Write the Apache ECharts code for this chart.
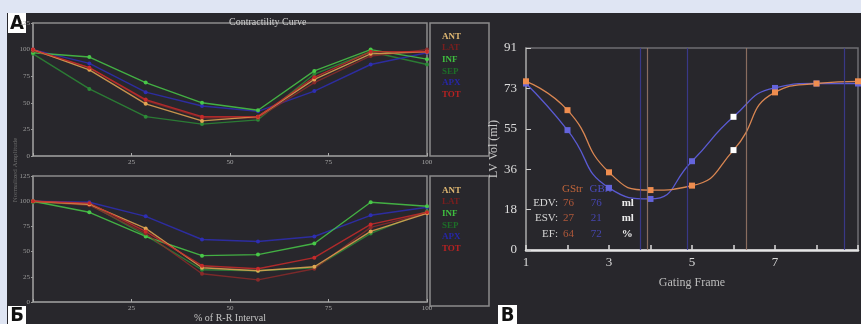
<!DOCTYPE html>
<html>
<head>
<meta charset="utf-8">
<script src="https://cdn.jsdelivr.net/npm/echarts@6/dist/echarts.min.js"></script>
<style>
  html, body { margin: 0; padding: 0; background: #dfe5f3; }
  #main { width: 861px; height: 324px; }
</style>
</head>
<body>
<div id="main"></div>
<script>
"use strict";

// % of R-R interval for the 8 gating frames (panels A and Б)
var rrPct = [0, 14.3, 28.6, 42.9, 57.1, 71.4, 85.7, 100];
var segNames = ['ANT', 'LAT', 'INF', 'SEP', 'APX', 'TOT'];

// panel A, normalized amplitude
var antA = [100, 81, 49, 33, 37, 72, 96, 98];
var latA = [99, 83, 52, 36, 36, 69, 94, 100];
var infA = [97, 93, 69, 50, 43, 80, 100, 91];
var sepA = [96, 63, 37, 30, 34, 77, 98, 86];
var apxA = [100, 87, 60, 47, 42, 61, 86, 97];
var totA = [100, 83, 53, 37, 37, 74, 98, 98];

// panel Б
var antB = [100, 97, 73, 34, 31, 35, 70, 88];
var latB = [100, 96, 68, 28, 22, 33, 74, 88];
var infB = [100, 89, 65, 46, 47, 58, 99, 95];
var sepB = [99, 97, 66, 32, 31, 34, 68, 90];
var apxB = [100, 99, 85, 62, 60, 65, 86, 94];
var totB = [100, 98, 70, 36, 33, 44, 77, 89];

// panel В, LV volume (ml) per gating frame
var frames = [1, 2, 3, 4, 5, 6, 7, 8, 9];
var gsVol = [76, 63, 35, 27, 29, 45, 71, 75, 76];
var gbVol = [75, 54, 28, 23, 40, 60, 73, 75, 75];
var volTicks = [0, 18, 36, 55, 73, 91];
var tanLines = [3.93, 6.31];
var blueLines = [3.75, 4.88, 8.67];
var whiteFrame = 6;

var segColors = {
    ANT: '#e2a552', LAT: '#8a2a2a', INF: '#48c848',
    SEP: '#2c8a36', APX: '#2e2eb4', TOT: '#c62a2a'
};
var legendColors = {
    ANT: '#e0b872', LAT: '#7a1e1e', INF: '#3fbf3f',
    SEP: '#1d6e28', APX: '#2626a8', TOT: '#b82222'
};

var serif = "'Liberation Serif', 'DejaVu Serif', serif";

function pairs(xs, ys) {
    return xs.map(function (x, i) { return [x, ys[i]]; });
}

function segSeries(idx, vals) {
    var order = ['SEP', 'APX', 'INF', 'LAT', 'ANT', 'TOT'];
    return order.map(function (n) {
        return {
            name: n,
            type: 'line',
            xAxisIndex: idx,
            yAxisIndex: idx,
            data: pairs(rrPct, vals[n]),
            symbol: 'circle',
            symbolSize: 4,
            lineStyle: { width: 1.4, color: segColors[n], opacity: 0.85 },
            itemStyle: { color: segColors[n] },
            animation: false
        };
    });
}

function smallX(idx, name) {
    return {
        gridIndex: idx, type: 'value', min: 0, max: 100, interval: 25,
        name: name || '', nameLocation: 'middle', nameGap: 11,
        nameTextStyle: { color: '#c4c4c4', fontFamily: serif, fontSize: 10 },
        axisLine: { lineStyle: { color: '#8c8c8c', width: 1.5 } },
        axisTick: { inside: true, length: 3, lineStyle: { color: '#aaa' } },
        axisLabel: {
            color: '#a8a8a8', fontFamily: serif, fontSize: 7, margin: 3,
            formatter: function (v) { return v === 0 ? '' : v; }
        },
        splitLine: { show: false }
    };
}

function smallY(idx) {
    return {
        gridIndex: idx, type: 'value', min: 0, max: 125, interval: 25,
        axisLine: { show: true, lineStyle: { color: '#8c8c8c', width: 1.5 } },
        axisTick: { show: true, length: 2, lineStyle: { color: '#999' } },
        axisLabel: { color: '#9a9a9a', fontFamily: serif, fontSize: 7, margin: 3 },
        splitLine: { show: false }
    };
}

function segLegend(top) {
    return {
        orient: 'vertical', left: 432, top: top,
        icon: 'none', itemWidth: 0, itemHeight: 8, itemGap: 2.6,
        selectedMode: false,
        data: segNames.map(function (n) {
            return { name: n, textStyle: { color: legendColors[n] } };
        }),
        textStyle: { fontFamily: serif, fontSize: 9, fontWeight: 'bold' }
    };
}

function panelTag(x, y, w, h, txt) {
    return {
        type: 'group', left: x, top: y,
        children: [
            { type: 'rect', shape: { x: 0, y: 0, width: w, height: h }, style: { fill: '#ffffff' } },
            {
                type: 'text', x: w / 2, y: h / 2 + 1,
                style: {
                    text: txt, fill: '#111', align: 'center', verticalAlign: 'middle',
                    font: "bold 20px 'Liberation Sans Narrow', 'DejaVu Sans Condensed', sans-serif"
                }
            }
        ]
    };
}

function markerData(ys) {
    return frames.map(function (f, i) {
        var item = { value: [f, ys[i]] };
        if (f === whiteFrame) item.itemStyle = { color: '#ffffff' };
        return item;
    });
}

function vertLines(xs, color) {
    return {
        silent: true, symbol: 'none', label: { show: false },
        lineStyle: { color: color, width: 1.2, type: 'solid', opacity: 0.85 },
        data: xs.map(function (x) { return { xAxis: x }; })
    };
}

function tableRow(y, label, a, b, unit) {
    return [
        {
            type: 'text', x: 558, y: y,
            style: { text: label, fill: '#d6d6d6', align: 'right', verticalAlign: 'middle', font: "11px " + serif }
        },
        {
            type: 'text', x: 563, y: y,
            style: {
                text: '{o|' + a + '}     {b|' + b + '}      {u|' + unit + '}', verticalAlign: 'middle',
                rich: {
                    o: { fill: '#b0583a', font: "11px " + serif },
                    b: { fill: '#4646b0', font: "11px " + serif },
                    u: { fill: '#ececec', font: "bold 11px " + serif }
                }
            }
        }
    ];
}

var chart = echarts.init(document.getElementById('main'), null, { renderer: 'canvas' });

var option = {
    backgroundColor: '#28272c',
    animation: false,
    title: [{
        text: 'Contractility Curve', left: 224, top: 12,
        textStyle: { color: '#cfcfcf', fontFamily: serif, fontSize: 10, fontWeight: 'normal' }
    }],
    legend: [segLegend(27), segLegend(181)],
    grid: [
        { left: 33, top: 23, width: 394, height: 133, show: true, borderColor: '#8c8c8c', borderWidth: 1.5, backgroundColor: 'transparent' },
        { left: 33, top: 176, width: 394, height: 130, show: true, borderColor: '#8c8c8c', borderWidth: 1.5, backgroundColor: 'transparent' },
        { left: 526, top: 48, width: 346, height: 202, show: true, borderColor: '#6e6e72', borderWidth: 1.5, backgroundColor: 'transparent' }
    ],
    xAxis: [
        smallX(0),
        smallX(1, '% of R-R Interval'),
        {
            gridIndex: 2, type: 'value', min: 1, max: 9, interval: 1,
            name: 'Gating Frame', nameLocation: 'middle', nameGap: 27,
            nameTextStyle: { color: '#bcbcbc', fontFamily: serif, fontSize: 12 },
            axisLine: { lineStyle: { color: '#e6e6e6', width: 2.5 } },
            axisTick: { inside: true, length: 5, lineStyle: { color: '#dcdcdc', width: 1.5 } },
            axisLabel: {
                color: '#d8d8d8', fontFamily: serif, fontSize: 13, margin: 6,
                formatter: function (v) { return v % 2 === 1 && v < 9 ? v : ''; }
            },
            splitLine: { show: false }
        }
    ],
    yAxis: [
        smallY(0),
        smallY(1),
        {
            gridIndex: 2, type: 'value', min: 0, max: 91, interval: 91 / 5,
            name: 'LV Vol (ml)', nameLocation: 'middle', nameGap: 20,
            nameTextStyle: { color: '#c8c8c8', fontFamily: serif, fontSize: 12 },
            axisLine: { show: true, lineStyle: { color: '#9a9a9a', width: 1.5 } },
            axisTick: { show: true, inside: true, length: 5, lineStyle: { color: '#cfcfcf' } },
            axisLabel: {
                color: '#dedede', fontFamily: serif, fontSize: 13, margin: 9,
                formatter: function (v) { return volTicks[Math.round(v / (91 / 5))]; }
            },
            splitLine: { show: false }
        }
    ],
    series: segSeries(0, { ANT: antA, LAT: latA, INF: infA, SEP: sepA, APX: apxA, TOT: totA })
        .concat(segSeries(1, { ANT: antB, LAT: latB, INF: infB, SEP: sepB, APX: apxB, TOT: totB }))
        .concat([
            {
                name: 'GBrt', type: 'line', xAxisIndex: 2, yAxisIndex: 2,
                data: markerData(gbVol), smooth: 0.55,
                symbol: 'rect', symbolSize: 6,
                lineStyle: { color: '#5a5ad2', width: 1.3 },
                itemStyle: { color: '#6464dc' },
                markLine: vertLines(blueLines, '#3c3c98')
            },
            {
                name: 'GStr', type: 'line', xAxisIndex: 2, yAxisIndex: 2,
                data: markerData(gsVol), smooth: 0.55,
                symbol: 'rect', symbolSize: 6,
                lineStyle: { color: '#d98652', width: 1.3 },
                itemStyle: { color: '#ef8d4f' },
                markLine: vertLines(tanLines, '#9a7a68')
            }
        ]),
    graphic: [
        { type: 'rect', shape: { x: 0, y: 0, width: 861, height: 13 }, style: { fill: '#dfe5f3' } },
        { type: 'rect', shape: { x: 0, y: 0, width: 7, height: 324 }, style: { fill: '#dfe5f3' } },
        // legend frames
        { type: 'rect', shape: { x: 430, y: 23, width: 59, height: 133 }, style: { fill: 'none', stroke: '#8c8c8c', lineWidth: 1.5 } },
        { type: 'rect', shape: { x: 430, y: 176, width: 59, height: 130 }, style: { fill: 'none', stroke: '#8c8c8c', lineWidth: 1.5 } },
        {
            type: 'text', x: 15, y: 170, rotation: Math.PI / 2,
            style: { text: 'Normalized Amplitude', fill: '#6c6c6c', align: 'center', verticalAlign: 'middle', font: "7px " + serif }
        },
        // volume table
        {
            type: 'text', x: 562, y: 189,
            style: {
                text: '{o|GStr}  {b|GBrt}', verticalAlign: 'middle',
                rich: { o: { fill: '#c2653a', font: "11px " + serif }, b: { fill: '#4c4cc0', font: "11px " + serif } }
            }
        }
    ].concat(tableRow(203, 'EDV:', 76, 76, 'ml'))
     .concat(tableRow(218, 'ESV:', 27, 21, 'ml'))
     .concat(tableRow(234, 'EF:', 64, 72, '%'))
     .concat([
        panelTag(8, 13, 18, 20, 'A'),
        panelTag(8, 306, 18, 18, 'Б'),
        panelTag(498, 305, 19, 19, 'В')
    ])
};

chart.setOption(option);
</script>
</body>
</html>
